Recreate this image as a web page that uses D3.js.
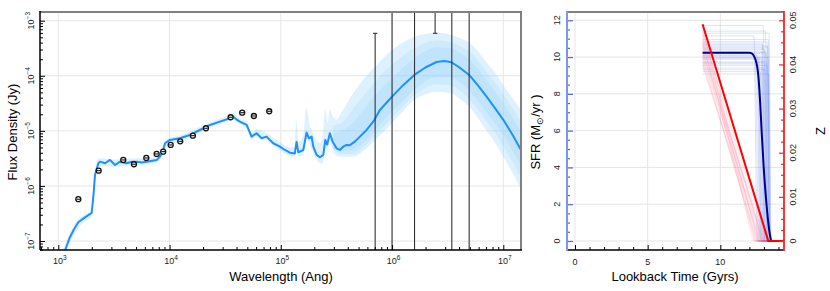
<!DOCTYPE html>
<html><head><meta charset="utf-8">
<script src="https://cdn.jsdelivr.net/npm/d3@7"></script>
<style>body{margin:0;background:#fff;} text{font-family:"Liberation Sans",Arial,sans-serif;}</style>
</head><body><svg id="c" width="830" height="291"></svg>
<script>
// ---------------- DATA ----------------
// SED median: [log10 wavelength (Ang), log10 flux density (Jy)]
const sedMedian = [
 [3.03,-7.35],[3.10,-6.95],[3.14,-6.79],[3.18,-6.66],[3.24,-6.57],[3.30,-6.49],[3.315,-6.2],[3.33,-5.80],
 [3.36,-5.588],[3.375,-5.559],[3.42,-5.588],[3.465,-5.528],[3.51,-5.619],[3.554,-5.559],[3.615,-5.588],
 [3.66,-5.56],[3.704,-5.559],[3.75,-5.575],[3.794,-5.559],[3.884,-5.528],[3.914,-5.468],[3.943,-5.347],
 [3.959,-5.225],[4.004,-5.165],[4.093,-5.134],[4.183,-5.074],[4.273,-4.984],[4.363,-4.893],[4.453,-4.833],
 [4.542,-4.771],[4.57,-4.74],[4.60,-4.79],[4.632,-4.833],[4.693,-4.893],[4.737,-5.105],[4.782,-5.044],
 [4.827,-5.134],[4.872,-5.105],[4.932,-5.225],[4.992,-5.287],[5.037,-5.347],[5.082,-5.396],[5.126,-5.41],
 [5.142,-5.2],[5.157,-5.39],[5.202,-5.347],[5.232,-5.03],[5.253,-5.135],[5.277,-5.105],[5.292,-5.287],
 [5.322,-5.437],[5.352,-5.48],[5.382,-5.437],[5.40,-5.165],[5.417,-5.25],[5.441,-5.044],[5.466,-5.196],
 [5.501,-5.316],[5.531,-5.347],[5.561,-5.287],[5.591,-5.256],[5.621,-5.26],[5.666,-5.196],[5.711,-5.105],
 [5.771,-4.984],[5.831,-4.833],[5.891,-4.621],[5.95,-4.49],[6.0,-4.379],[6.1,-4.17],[6.2,-3.985],[6.3,-3.85],
 [6.4,-3.75],[6.47,-3.73],[6.535,-3.755],[6.6,-3.84],[6.693,-3.985],[6.77,-4.17],[6.85,-4.379],[6.93,-4.6],
 [7.0,-4.80],[7.08,-5.06],[7.159,-5.347]
];
// Spread of the SED samples: [log10 wavelength, log10 low, log10 high]
const sedOuterBand = [
 [3.03,-7.45,-7.2],[3.1,-7.05,-6.88],[3.14,-6.9,-6.72],[3.18,-6.76,-6.6],[3.24,-6.65,-6.52],[3.30,-6.56,-6.44],
 [3.315,-6.3,-6.1],[3.33,-5.88,-5.72],[3.36,-5.66,-5.5],[3.42,-5.64,-5.5],[3.5,-5.66,-5.52],[3.6,-5.64,-5.5],
 [3.7,-5.62,-5.5],[3.8,-5.61,-5.49],[3.884,-5.58,-5.47],[3.92,-5.52,-5.4],[3.943,-5.4,-5.28],[3.96,-5.28,-5.16],
 [4.1,-5.19,-5.08],[4.27,-5.03,-4.93],[4.45,-4.88,-4.78],[4.54,-4.82,-4.71],[4.57,-4.79,-4.68],[4.63,-4.88,-4.78],
 [4.69,-4.95,-4.83],[4.74,-5.16,-5.04],[4.78,-5.1,-4.96],[4.87,-5.17,-5.04],[4.99,-5.35,-5.2],[5.08,-5.46,-5.3],
 [5.12,-5.48,-5.3],[5.14,-5.3,-4.83],[5.16,-5.47,-5.2],[5.2,-5.45,-5.1],[5.23,-5.15,-4.58],[5.26,-5.25,-4.9],
 [5.29,-5.4,-5.05],[5.33,-5.55,-5.2],[5.36,-5.59,-5.22],[5.38,-5.56,-5.0],[5.40,-5.3,-4.6],[5.42,-5.35,-4.85],
 [5.44,-5.2,-4.62],[5.47,-5.35,-4.75],[5.5,-5.45,-4.8],[5.55,-5.47,-4.65],[5.65,-5.47,-4.32],[5.75,-5.35,-4.05],
 [5.85,-5.165,-3.83],[6.0,-4.86,-3.53],[6.1,-4.64,-3.39],[6.2,-4.44,-3.29],[6.3,-4.34,-3.24],[6.4,-4.29,-3.22],
 [6.535,-4.32,-3.26],[6.61,-4.42,-3.32],[6.693,-4.56,-3.4],[6.77,-4.76,-3.55],[6.85,-5.0,-3.76],[6.93,-5.23,-3.96],
 [7.0,-5.47,-4.17],[7.08,-5.75,-4.4],[7.159,-6.05,-4.62]
];
const sedMidBand = [
 [5.47,-5.33,-4.9],[5.55,-5.42,-4.85],[5.65,-5.42,-4.6],[5.75,-5.28,-4.35],[5.85,-5.08,-4.1],[6.0,-4.76,-3.8],
 [6.1,-4.55,-3.63],[6.2,-4.35,-3.5],[6.3,-4.22,-3.4],[6.4,-4.16,-3.36],[6.535,-4.18,-3.39],[6.61,-4.27,-3.46],
 [6.693,-4.42,-3.56],[6.77,-4.6,-3.72],[6.85,-4.83,-3.93],[6.93,-5.05,-4.14],[7.0,-5.27,-4.34],[7.08,-5.55,-4.58],
 [7.159,-5.84,-4.83]
];
const sedInnerBand = [
 [5.47,-5.3,-5.05],[5.55,-5.36,-5.0],[5.65,-5.34,-4.85],[5.75,-5.2,-4.6],[5.85,-4.98,-4.35],[6.0,-4.65,-4.05],
 [6.1,-4.45,-3.85],[6.2,-4.25,-3.68],[6.3,-4.1,-3.55],[6.4,-4.02,-3.48],[6.535,-4.03,-3.5],[6.61,-4.12,-3.58],
 [6.693,-4.27,-3.7],[6.77,-4.45,-3.87],[6.85,-4.66,-4.08],[6.93,-4.88,-4.3],[7.0,-5.08,-4.5],[7.08,-5.35,-4.75],
 [7.159,-5.62,-5.02]
];
// Photometry: [log10 wavelength, log10 flux]
const photPoints = [
 [3.18,-6.241],[3.363,-5.722],[3.584,-5.528],[3.68,-5.606],[3.791,-5.492],[3.884,-5.419],[3.943,-5.377],
 [4.01,-5.256],[4.096,-5.19],[4.21,-5.087],[4.327,-4.953],[4.549,-4.753],[4.653,-4.67],[4.758,-4.73],[4.896,-4.644]
];
// Large error bars: [log10 wavelength, log10 low, log10 high]  (-12 / 2 = beyond the panel)
const limitBars = [
 [5.848,-12,-3.229],[6.0,-12,2],[6.202,-12,2],[6.387,-3.229,2],[6.537,-12,2],[6.693,-12,2]
];
const sedXTicks = [3,4,5,6,7];
const sedYTicks = [-7,-6,-5,-4,-3];

// Star formation history
const sfrMedianT = [8.78,12.0,12.16,12.35,12.46,12.55,12.62,12.73,12.85,12.98,13.15,13.3,13.42,13.52,14.0];
const sfrMedianV = [10.23,10.23,10.2,10.0,9.75,9.4,8.93,7.66,5.85,4.04,2.23,1.0,0.3,0.0,0.0];
const zMedianT = [8.78,13.3,14.5];
const zMedianV = [0.0491,0.0,0.0];
const sfrSampleLevel = [11.72,11.41,10.83,10.76,10.61,10.48,10.95,10.33,10.27,10.19,10.41,10.08,9.97,9.88,10.12,
  9.74,9.63,9.55,9.41,9.32,9.21,9.08,10.68,10.22,11.15,9.93,10.54,9.69,10.02,11.3];
const sfrSampleDrop = [12.95,13.1,13.2,12.9,13.25,13.0,13.3,12.8,13.15,12.7,13.05,12.6,13.28,12.85,12.5,
  13.18,12.4,13.22,12.95,13.08,12.75,13.32,12.88,13.12,12.3,12.65,13.26,13.02,12.55,13.35];
const sfrSampleZero = [13.12,13.25,13.38,13.05,13.4,13.18,13.45,12.98,13.3,12.9,13.22,12.82,13.42,13.02,12.72,
  13.35,12.65,13.38,13.1,13.25,12.95,13.48,13.05,13.3,12.55,12.85,13.4,13.2,12.78,13.5];
const zSampleStart = [0.0489,0.0485,0.0478,0.0471,0.0466,0.0459,0.0452,0.0447,0.0441,0.0433,0.0424,0.0419,0.0411,
  0.0403,0.0396,0.0487,0.0474,0.0462,0.0455,0.0444,0.0437,0.0427,0.0421,0.0414,0.0406,0.0481,0.0468,0.0449,0.0431,0.0399];
const zSampleZero = [13.2,12.4,12.9,13.05,12.6,12.8,12.3,12.95,12.7,12.5,13.1,12.85,12.45,12.65,12.75,
  12.55,13.15,12.35,12.9,12.6,13.0,12.7,12.4,12.8,12.5,12.25,12.85,12.65,12.95,12.55];
const ageTicks = [0,5,10];
const sfrTicks = [0,2,4,6,8,10,12];
const zTicks = [0,0.01,0.02,0.03,0.04,0.05];

// ---------------- DRAWING ----------------
const svg = d3.select("#c");
// Left panel
const L = {x0:40, x1:521, y0:12, y1:250};
const xL = d3.scaleLog().domain([10**2.8355, 10**7.159]).range([L.x0, L.x1]);
const yL = d3.scaleLog().domain([10**-7.163, 10**-2.842]).range([L.y1, L.y0]);
const X = v => xL(10 ** v), Y = v => yL(10 ** v);

svg.append("defs").append("clipPath").attr("id","clipL").append("rect")
  .attr("x",L.x0).attr("y",L.y0).attr("width",L.x1-L.x0).attr("height",L.y1-L.y0);
svg.select("defs").append("clipPath").attr("id","clipR").append("rect")
  .attr("x",567).attr("y",12).attr("width",217).attr("height",238);

const grid = svg.append("g").attr("stroke","#e6e6e6").attr("stroke-width",1);
sedXTicks.forEach(k => grid.append("line").attr("x1",X(k)).attr("x2",X(k)).attr("y1",L.y0).attr("y2",L.y1));
sedYTicks.forEach(k => grid.append("line").attr("y1",Y(k)).attr("y2",Y(k)).attr("x1",L.x0).attr("x2",L.x1));

const gSed = svg.append("g").attr("clip-path","url(#clipL)");
const band = d3.area().x(d => X(d[0])).y0(d => Y(d[1])).y1(d => Y(d[2])).curve(d3.curveMonotoneX);
gSed.append("path").datum(sedOuterBand).attr("d",band).attr("fill","#87cefa").attr("fill-opacity",0.28);
gSed.append("path").datum(sedMidBand).attr("d",band).attr("fill","#87cefa").attr("fill-opacity",0.18);
gSed.append("path").datum(sedInnerBand).attr("d",band).attr("fill","#87cefa").attr("fill-opacity",0.18);
gSed.append("path").datum(sedMedian)
  .attr("d", d3.line().x(d => X(d[0])).y(d => Y(d[1])))
  .attr("fill","none").attr("stroke","#1e90ff").attr("stroke-width",2).attr("stroke-linejoin","round");

// error bars
limitBars.forEach(b => {
  const lo = Math.max(b[1], -7.163), hi = Math.min(b[2], -2.842);
  gSed.append("line").attr("x1",X(b[0])).attr("x2",X(b[0])).attr("y1",Y(lo)).attr("y2",Y(hi))
    .attr("stroke","#333").attr("stroke-width",1.1);
  [b[1], b[2]].forEach(v => { if (v > -7.163 && v < -2.842)
    gSed.append("line").attr("x1",X(b[0])-2.2).attr("x2",X(b[0])+2.2).attr("y1",Y(v)).attr("y2",Y(v))
      .attr("stroke","#333").attr("stroke-width",1.1); });
});
// photometry markers
photPoints.forEach(p => {
  gSed.append("circle").attr("cx",X(p[0])).attr("cy",Y(p[1])).attr("r",2.5)
    .attr("fill","#fff").attr("stroke","#111").attr("stroke-width",1.3);
  gSed.append("line").attr("x1",X(p[0])-1.8).attr("x2",X(p[0])+1.8).attr("y1",Y(p[1])).attr("y2",Y(p[1]))
    .attr("stroke","#111").attr("stroke-width",1.1);
});

// axes ticks (inward)
function minorLog(k0,k1){ const a=[]; for(let k=k0;k<=k1;k++) for(let m=2;m<=9;m++) a.push(m*10**k); return a; }
const xMin = minorLog(2,7).filter(v => v>=xL.domain()[0] && v<=xL.domain()[1]);
const yMin = minorLog(-8,-3).filter(v => v>=yL.domain()[0] && v<=yL.domain()[1]);
function ax(g){ g.select(".domain").remove(); g.selectAll("text").remove(); return g; }
svg.append("g").attr("transform",`translate(0,${L.y1})`)
  .call(d3.axisBottom(xL).tickValues(sedXTicks.map(k=>10**k)).tickSize(-5)).call(ax)
  .selectAll("line").attr("stroke","#000");
svg.append("g").attr("transform",`translate(0,${L.y1})`)
  .call(d3.axisBottom(xL).tickValues(xMin).tickSize(-3)).call(ax).selectAll("line").attr("stroke","#000");
svg.append("g").attr("transform",`translate(${L.x0},0)`)
  .call(d3.axisLeft(yL).tickValues(sedYTicks.map(k=>10**k)).tickSize(-5)).call(ax).selectAll("line").attr("stroke","#000");
svg.append("g").attr("transform",`translate(${L.x0},0)`)
  .call(d3.axisLeft(yL).tickValues(yMin).tickSize(-3)).call(ax).selectAll("line").attr("stroke","#000");

// frame
svg.append("line").attr("x1",L.x0).attr("x2",L.x1+1).attr("y1",L.y0).attr("y2",L.y0).attr("stroke","#808080").attr("stroke-width",2);
svg.append("line").attr("x1",L.x1).attr("x2",L.x1).attr("y1",L.y0).attr("y2",L.y1).attr("stroke","#808080").attr("stroke-width",2);
svg.append("line").attr("x1",L.x0).attr("x2",L.x0).attr("y1",L.y0-1).attr("y2",L.y1).attr("stroke","#000").attr("stroke-width",1.5);
svg.append("line").attr("x1",L.x0).attr("x2",L.x1+1).attr("y1",L.y1).attr("y2",L.y1).attr("stroke","#000").attr("stroke-width",1.5);

// tick labels
sedXTicks.forEach(k => {
  const t = svg.append("text").attr("x",X(k)+1.5).attr("y",264).attr("text-anchor","middle").attr("font-size",9).attr("fill","#222");
  t.append("tspan").text("10");
  t.append("tspan").attr("dy",-4).attr("font-size",6.5).text(k);
});
sedYTicks.forEach(k => {
  const t = svg.append("text").attr("transform",`translate(33.5,${Y(k)}) rotate(-90)`).attr("text-anchor","middle")
    .attr("font-size",9).attr("fill","#222");
  t.append("tspan").text("10");
  t.append("tspan").attr("dy",-4).attr("font-size",6.5).text("\u2212"+(-k));
});
svg.append("text").attr("x",281).attr("y",281).attr("text-anchor","middle").attr("font-size",13).text("Wavelength (Ang)");
svg.append("text").attr("transform","translate(16.5,132) rotate(-90)").attr("text-anchor","middle").attr("font-size",13).text("Flux Density (Jy)");

// ---------------- Right panel ----------------
const R = {x0:567, x1:784, y0:12, y1:250};
const xR = d3.scaleLinear().domain([-0.55, 14.38]).range([R.x0, R.x1]);
const yS = d3.scaleLinear().domain([-0.49, 12.45]).range([R.y1, R.y0]);
const yZ = d3.scaleLinear().domain([-0.49*0.05/12, 12.45*0.05/12]).range([R.y1, R.y0]);

const grid2 = svg.append("g").attr("stroke","#e6e6e6").attr("stroke-width",1);
ageTicks.forEach(v => grid2.append("line").attr("x1",xR(v)).attr("x2",xR(v)).attr("y1",R.y0).attr("y2",R.y1));
sfrTicks.forEach(v => grid2.append("line").attr("y1",yS(v)).attr("y2",yS(v)).attr("x1",R.x0).attr("x2",R.x1));

const gH = svg.append("g").attr("clip-path","url(#clipR)");
const lineS = d3.line().x(d => xR(d[0])).y(d => yS(d[1])).curve(d3.curveMonotoneX);
const lineZ = d3.line().x(d => xR(d[0])).y(d => yZ(d[1]));
sfrSampleLevel.forEach((lv,i) => {
  gH.append("path").datum([[8.78,lv],[sfrSampleDrop[i],lv],[sfrSampleZero[i],0],[14.5,0]]).attr("d",lineS)
    .attr("fill","none").attr("stroke","#4169e1").attr("stroke-opacity",0.18).attr("stroke-width",1);
});
zSampleStart.forEach((z0,i) => {
  gH.append("path").datum([[8.78,z0],[zSampleZero[i],0],[14.5,0]]).attr("d",lineZ)
    .attr("fill","none").attr("stroke","#ff7088").attr("stroke-opacity",0.1).attr("stroke-width",1);
});
gH.append("path").datum(sfrMedianT.map((t,i)=>[t,sfrMedianV[i]])).attr("d",lineS)
  .attr("fill","none").attr("stroke","#00008b").attr("stroke-width",2);
gH.append("path").datum(zMedianT.map((t,i)=>[t,zMedianV[i]])).attr("d",lineZ)
  .attr("fill","none").attr("stroke","#ff0000").attr("stroke-width",2);

// axes
svg.append("g").attr("transform",`translate(0,${R.y1})`)
  .call(d3.axisBottom(xR).tickValues(ageTicks).tickSize(-5)).call(ax).selectAll("line").attr("stroke","#000");
svg.append("g").attr("transform",`translate(0,${R.y1})`)
  .call(d3.axisBottom(xR).tickValues(d3.range(0,15).filter(v=>v%5)).tickSize(-3)).call(ax).selectAll("line").attr("stroke","#000");
svg.append("g").attr("transform",`translate(${R.x0},0)`)
  .call(d3.axisLeft(yS).tickValues(sfrTicks).tickSize(-6)).call(ax).selectAll("line").attr("stroke","#4a6ad8").attr("stroke-width",1.2);
svg.append("g").attr("transform",`translate(${R.x0},0)`)
  .call(d3.axisLeft(yS).tickValues(d3.range(0,12.5,0.5).filter(v=>v%2)).tickSize(-3)).call(ax).selectAll("line").attr("stroke","#4a6ad8").attr("stroke-width",1.2);
svg.append("g").attr("transform",`translate(${R.x1},0)`)
  .call(d3.axisRight(yZ).tickValues(zTicks).tickSize(-5)).call(ax).selectAll("line").attr("stroke","#ff2020").attr("stroke-width",1.2);
svg.append("g").attr("transform",`translate(${R.x1},0)`)
  .call(d3.axisRight(yZ).tickValues(d3.range(0,0.0501,0.0025).filter((v,i)=>i%4)).tickSize(-3)).call(ax).selectAll("line").attr("stroke","#ff2020").attr("stroke-width",1.2);

svg.append("line").attr("x1",R.x0).attr("x2",R.x1).attr("y1",R.y0).attr("y2",R.y0).attr("stroke","#808080").attr("stroke-width",2);
svg.append("line").attr("x1",R.x0).attr("x2",R.x1).attr("y1",R.y1).attr("y2",R.y1).attr("stroke","#000").attr("stroke-width",1.5);
svg.append("line").attr("x1",R.x0).attr("x2",R.x0).attr("y1",R.y0-1).attr("y2",R.y1+1).attr("stroke","#7b96ec").attr("stroke-width",2);
svg.append("line").attr("x1",R.x1).attr("x2",R.x1).attr("y1",R.y0-1).attr("y2",R.y1+1).attr("stroke","#ff2020").attr("stroke-width",1.8);

ageTicks.forEach(v => svg.append("text").attr("x",xR(v)).attr("y",265).attr("text-anchor","middle").attr("font-size",9).attr("fill","#222").text(v));
sfrTicks.forEach(v => svg.append("text").attr("transform",`translate(560,${yS(v)}) rotate(-90)`).attr("text-anchor","middle").attr("font-size",9).attr("fill","#222").text(v));
zTicks.forEach(v => svg.append("text").attr("transform",`translate(796,${yZ(v)}) rotate(-90)`).attr("text-anchor","middle").attr("font-size",9).attr("fill","#222").text(v===0?"0":v.toFixed(2)));
svg.append("text").attr("x",675).attr("y",281).attr("text-anchor","middle").attr("font-size",13).text("Lookback Time (Gyrs)");
const st = svg.append("text").attr("transform","translate(540,132) rotate(-90)").attr("text-anchor","middle").attr("font-size",13);
st.append("tspan").text("SFR (M");
st.append("tspan").attr("font-size",9).attr("dy",3).text("\u2299");
st.append("tspan").attr("dy",-3).text("/yr )");
svg.append("text").attr("transform","translate(825,131) rotate(-90)").attr("text-anchor","middle").attr("font-size",13).text("Z");
</script></body></html>
